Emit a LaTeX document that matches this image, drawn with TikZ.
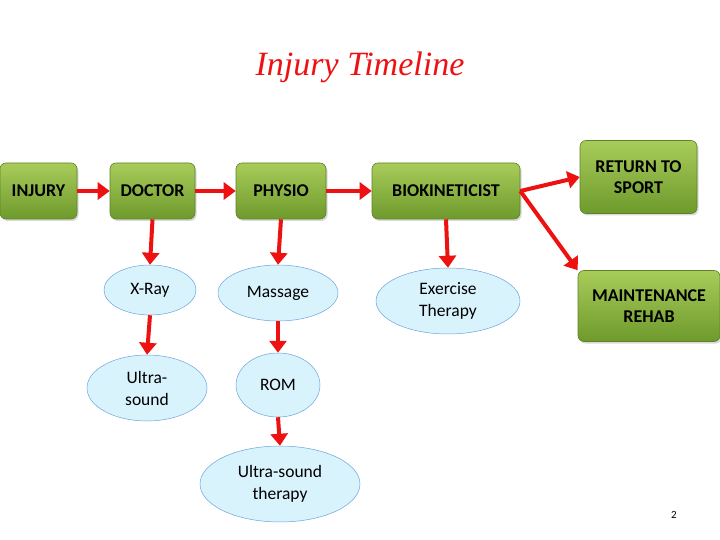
\documentclass[tikz,border=0pt]{standalone}
\usepackage{fontspec}
\setmainfont{Carlito}
\newfontfamily\ttlfont{Liberation Serif}
\usetikzlibrary{shapes.geometric,arrows.meta,shadows}
\definecolor{gtop}{HTML}{A8CC5A}
\definecolor{gbot}{HTML}{6E9A2C}
\definecolor{gedge}{HTML}{5E8228}
\definecolor{arrred}{HTML}{EE1111}
\begin{document}
\begin{tikzpicture}[x=1pt,y=-1pt,
 box/.style={draw=gedge,line width=0.6pt,rounded corners=6pt,top color=gtop,bottom color=gbot,font=\bfseries\fontsize{18}{21}\selectfont,align=center,inner sep=0pt,drop shadow={opacity=0.3,shadow xshift=1.5pt,shadow yshift=-2pt}},
 ell/.style={ellipse,draw=cyan!60!blue!60,line width=0.5pt,fill=cyan!15,font=\fontsize{17.5}{22}\selectfont,align=center,inner sep=0pt},
 arr/.style={arrred,line width=4pt,-{Triangle[length=12pt,width=17pt]}}]
\useasboundingbox (0,0) rectangle (720,540);
\node[font=\ttlfont\itshape\fontsize{34}{36}\selectfont,arrred] (title) at (360,67) {Injury Timeline};
\node[box,minimum width=77pt,minimum height=56pt] (inj) at (38.5,191) {INJURY};
\node[box,minimum width=85pt,minimum height=56pt] (doc) at (152.5,191) {DOCTOR};
\node[box,minimum width=90pt,minimum height=56pt] (phy) at (281,191) {PHYSIO};
\node[box,minimum width=148pt,minimum height=56pt] (bio) at (446,191) {BIOKINETICIST};
\node[box,minimum width=117pt,minimum height=73pt] (ret) at (638.5,177) {RETURN TO\\SPORT};
\node[box,minimum width=142pt,minimum height=71pt] (mai) at (649,306) {MAINTENANCE\\REHAB};
\node[ell,minimum width=92pt,minimum height=50pt] (xr) at (150,290) {X-Ray};
\node[ell,minimum width=120pt,minimum height=56pt] (mas) at (278,293) {Massage};
\node[ell,minimum width=144pt,minimum height=66pt] (ex) at (448,301) {Exercise\\Therapy};
\node[ell,minimum width=120pt,minimum height=66pt] (us) at (147,388) {Ultra-\\sound};
\node[ell,minimum width=84pt,minimum height=64pt] (rom) at (278,385) {ROM};
\node[ell,minimum width=160pt,minimum height=76pt] (ust) at (280,484) {Ultra-sound\\therapy};
\node[font=\fontsize{11}{12}\selectfont] (pg) at (674,515) {2};
\draw[arr] (inj) -- (doc);
\draw[arr] (doc.east) -- (phy.west);
\draw[arr] (phy.east) -- (bio.west);
\draw[arr] (bio.east) -- (ret.west);
\draw[arr] (bio.east) -- (mai.north west);
\draw[arr] (doc.south) -- (xr.north);
\draw[arr] (phy.south) -- (mas.north);
\draw[arr] (bio.south) -- (ex.north);
\draw[arr] (xr.south) -- (us.north);
\draw[arr] (mas.south) -- (rom.north);
\draw[arr] (rom.south) -- (ust.north);
\end{tikzpicture}
\end{document}
